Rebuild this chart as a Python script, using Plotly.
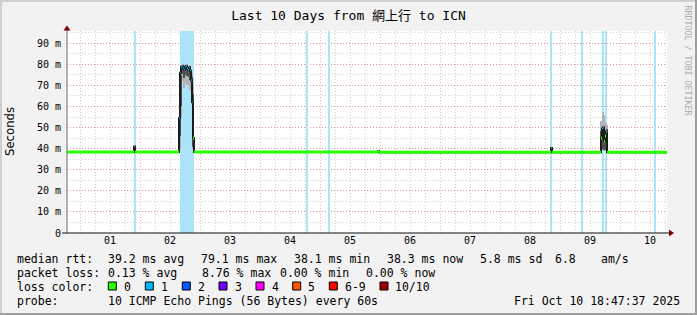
import plotly.graph_objects as go

# ---------------- data ----------------
# time axis: days counted from Oct 01 00:00 (graph ends Fri Oct 10 18:47:37)
graph_start = -0.2169
graph_end = 9.7831
sample_days = 1 / 60          # one rrd sample per pixel column

day_label_pos = [0.5, 1.5, 2.5, 3.5, 4.5, 5.5, 6.5, 7.5, 8.5, 9.5]
day_labels = ["01", "02", "03", "04", "05", "06", "07", "08", "09", "10"]

y_max = 95.8
y_tick_vals = [0, 10, 20, 30, 40, 50, 60, 70, 80, 90]
y_tick_text = ["0", "10 m", "20 m", "30 m", "40 m", "50 m", "60 m", "70 m", "80 m", "90 m"]

# median rtt (ms) samples, value held until next sample, with lost pings per sample
med_day = [-0.2169, 0.900, 0.917, 1.650, 1.667, 1.683, 1.700, 1.717, 1.733, 1.750,
           1.767, 1.783, 1.800, 1.817, 1.833, 1.850, 1.867, 1.883, 1.900, 4.967,
           4.983, 7.850, 7.867, 8.683, 8.700, 8.717, 8.733, 8.750, 8.767, 8.783]
med_ms = [38.4, 41.0, 38.4, 54.5, 76.0, 78.6, 79.0, 78.2, 77.4, 78.8,
          79.1, 78.0, 77.6, 78.4, 77.0, 72.5, 62.0, 45.0, 38.4, 38.9,
          38.3, 40.3, 38.3, 45.0, 49.5, 50.0, 43.5, 46.0, 47.5, 38.3]
med_loss = [0, 1, 0, 1, 1, 1, 1, 1, 1, 1,
            1, 1, 1, 1, 1, 1, 1, 0, 0, 0,
            0, 1, 0, 0, 1, 1, 0, 0, 1, 0]

# smoke (ping spread) for the busy samples: 10th/25th/75th/90th percentile (ms)
smoke_day = [1.650, 1.667, 1.683, 1.700, 1.717, 1.733, 1.750, 1.767, 1.783, 1.800,
             1.817, 1.833, 1.850, 1.867, 1.883,
             8.667, 8.683, 8.700, 8.717, 8.733, 8.750, 8.767]
smoke_p10 = [40.0, 55.0, 73.0, 72.0, 70.0, 69.0, 71.0, 71.0, 70.0, 70.0,
             70.5, 68.0, 62.0, 48.0, 40.0,
             38.5, 39.0, 39.5, 39.5, 39.0, 39.0, 39.0]
smoke_p25 = [46.0, 60.0, 76.0, 75.5, 74.0, 73.5, 75.0, 75.5, 74.5, 74.0,
             74.5, 72.5, 66.0, 53.0, 41.0,
             38.8, 40.0, 40.0, 40.0, 39.5, 39.5, 39.5]
smoke_p75 = [54.0, 75.0, 79.2, 79.5, 78.8, 78.0, 79.3, 79.6, 78.6, 78.5,
             79.0, 78.0, 74.0, 66.0, 50.0,
             40.0, 48.5, 50.5, 50.0, 48.0, 49.0, 49.5]
smoke_p90 = [55.0, 77.0, 79.8, 80.0, 79.6, 79.0, 80.0, 80.2, 79.5, 79.3,
             79.8, 79.0, 76.0, 70.0, 55.0,
             41.0, 53.0, 57.5, 56.0, 54.0, 52.0, 51.0]

# periods with packet loss (background), days
loss_start = [0.908, 1.667, 3.780, 4.147, 7.842, 8.363, 8.705, 8.758, 9.580]
loss_end = [0.925, 1.900, 3.797, 4.163, 7.858, 8.380, 8.738, 8.775, 9.597]

loss_names = ["0", "1", "2", "3", "4", "5", "6-9", "10/10"]

# ---------------- styles ----------------
loss_colors = ["#26ff00", "#00b8ff", "#0059ff", "#6e00ff", "#ff00ff", "#ff5500", "#ff0000", "#a10000"]
loss_bg_color = "#aae3fa"
MONO = "DejaVu Sans Mono, Noto Sans CJK TC, monospace"

L, R, T, B = 67, 30, 31, 82
W, H = 697, 315
PW, PH = W - L - R, H - T - B


def px(xp):
    return (xp - L) / PW


def py(yp):
    return (H - B - yp) / PH


def loss_cat(n):
    if n <= 5:
        return n
    if n < 10:
        return 6
    return 7


fig = go.Figure()

# loss background
fig.add_trace(go.Bar(
    x=[(s + e) / 2 for s, e in zip(loss_start, loss_end)],
    width=[e - s for s, e in zip(loss_start, loss_end)],
    y=[y_max] * len(loss_start), base=0,
    marker=dict(color=loss_bg_color, line=dict(width=0)),
    hoverinfo="skip", showlegend=False))

# smoke
fig.add_trace(go.Bar(
    x=[d + sample_days / 2 for d in smoke_day], width=[sample_days] * len(smoke_day),
    base=smoke_p10, y=[h - l for h, l in zip(smoke_p90, smoke_p10)],
    marker=dict(color="#b2b2b2", line=dict(width=0)), hoverinfo="skip", showlegend=False))
fig.add_trace(go.Bar(
    x=[d + sample_days / 2 for d in smoke_day], width=[sample_days] * len(smoke_day),
    base=smoke_p25, y=[h - l for h, l in zip(smoke_p75, smoke_p25)],
    marker=dict(color="#505050", line=dict(width=0)), hoverinfo="skip", showlegend=False))

# median, dark underlay (steps incl. vertical transitions)
fig.add_trace(go.Scatter(
    x=med_day + [graph_end], y=med_ms + [med_ms[-1]], mode="lines",
    line=dict(color="#1c1c1c", width=2, shape="hv"), hoverinfo="skip", showlegend=False))

# median coloured by loss (horizontal step pieces)
n = len(med_day)
cats = [loss_cat(v) for v in med_loss]
for c in sorted(set(cats)):
    xs, ys = [], []
    for i in range(n):
        if cats[i] != c:
            continue
        nxt = med_day[i + 1] if i + 1 < n else graph_end
        xs += [med_day[i], nxt, None]
        ys += [med_ms[i], med_ms[i], None]
    fig.add_trace(go.Scatter(x=xs, y=ys, mode="lines", connectgaps=False,
                             line=dict(color=loss_colors[c], width=3 if c == 0 else 1.2),
                             hoverinfo="skip", showlegend=False))

# carrier for the label axis
fig.add_trace(go.Scatter(x=[None], y=[None], xaxis="x2", showlegend=False, hoverinfo="skip"))

grid_major = "rgba(222,79,79,0.42)"
grid_minor = "rgba(143,143,143,0.42)"
DASH = "1px,2px"

fig.update_layout(
    width=W, height=H, margin=dict(l=L, r=R, t=T, b=B, pad=0),
    paper_bgcolor="#f2f2f2", plot_bgcolor="#ffffff",
    barmode="overlay", bargap=0, showlegend=False,
    font=dict(family=MONO, color="#000000"),
    title=dict(text="Last 10 Days from 網上行 to ICN", x=0.5, xanchor="center",
               y=1 - 15.5 / H, yanchor="middle", yref="container",
               font=dict(family=MONO, size=13, color="#000000")),
    xaxis=dict(range=[graph_start, graph_end], tickmode="linear", tick0=0, dtick=1,
               showticklabels=False, ticks="", showgrid=True, gridcolor=grid_major,
               griddash=DASH, gridwidth=1, zeroline=False, showline=False,
               minor=dict(tickmode="linear", tick0=0, dtick=0.25, showgrid=True,
                          gridcolor=grid_minor, griddash=DASH, gridwidth=1)),
    xaxis2=dict(overlaying="x", anchor="y", side="bottom", range=[graph_start, graph_end],
                tickmode="array", tickvals=day_label_pos, ticktext=day_labels,
                showgrid=False, zeroline=False, showline=False, ticks="",
                tickfont=dict(family=MONO, size=10, color="#000000")),
    yaxis=dict(range=[0, y_max], tickmode="array", tickvals=y_tick_vals, ticktext=y_tick_text,
               showgrid=True, gridcolor=grid_major, griddash=DASH, gridwidth=1,
               zeroline=False, showline=False, ticks="", ticklabelstandoff=5,
               tickfont=dict(family=MONO, size=10, color="#000000"),
               minor=dict(tickmode="linear", tick0=0, dtick=5, showgrid=True,
                          gridcolor=grid_minor, griddash=DASH, gridwidth=1)),
)

shapes = []
# frame shading
shapes.append(dict(type="rect", xref="paper", yref="paper", x0=px(0), x1=px(W), y0=py(0), y1=py(2),
                   fillcolor="#cfcfcf", line=dict(width=0), layer="below"))
shapes.append(dict(type="rect", xref="paper", yref="paper", x0=px(0), x1=px(2), y0=py(0), y1=py(H),
                   fillcolor="#cfcfcf", line=dict(width=0), layer="below"))
shapes.append(dict(type="rect", xref="paper", yref="paper", x0=px(W - 2), x1=px(W), y0=py(0), y1=py(H),
                   fillcolor="#9e9e9e", line=dict(width=0), layer="below"))
shapes.append(dict(type="rect", xref="paper", yref="paper", x0=px(0), x1=px(W), y0=py(H - 2), y1=py(H),
                   fillcolor="#9e9e9e", line=dict(width=0), layer="below"))
# axes
shapes.append(dict(type="line", xref="paper", yref="paper", x0=px(L), x1=px(L), y0=0, y1=py(29),
                   line=dict(color="#6a6a6a", width=1)))
shapes.append(dict(type="line", xref="paper", yref="paper", x0=px(62), x1=px(670), y0=0, y1=0,
                   line=dict(color="#101010", width=1.2)))
# arrows
shapes.append(dict(type="path", xref="paper", yref="paper",
                   path=f"M {px(674)} {py(233)} L {px(669)} {py(229.5)} L {px(669)} {py(236.5)} Z",
                   fillcolor="#7f0000", line=dict(width=0)))
shapes.append(dict(type="path", xref="paper", yref="paper",
                   path=f"M {px(67)} {py(25.5)} L {px(63.5)} {py(30.5)} L {px(70.5)} {py(30.5)} Z",
                   fillcolor="#7f0000", line=dict(width=0)))

annotations = []


def text_at(x, y, s, size=11.5, color="#000000", anchor="left", angle=0, family=MONO):
    annotations.append(dict(x=px(x), y=py(y), xref="paper", yref="paper", text=s, showarrow=False,
                            xanchor=anchor, yanchor="middle", textangle=angle,
                            font=dict(family=family, size=size, color=color), borderpad=0))


text_at(10, 132, "Seconds", size=11.7, anchor="center", angle=-90, family="DejaVu Sans")
text_at(687.5, 60, "RRDTOOL / TOBI OETIKER", size=8.3, color="#ababab", anchor="center", angle=90)

row1 = [(16, "median rtt:"), (107, "39.2 ms avg"), (200, "79.1 ms max"), (292.5, "38.1 ms min"),
        (386, "38.3 ms now"), (479, "5.8 ms sd"), (554, "6.8"), (600, "am/s")]
row2 = [(16, "packet loss:"), (107, "0.13 % avg"), (200.5, "8.76 % max"), (279, "0.00 % min"),
        (365, "0.00 % now")]
for x, s in row1:
    text_at(x, 259, s)
for x, s in row2:
    text_at(x, 273, s)
text_at(16, 287, "loss color:")
box_x = [108.3, 145.3, 182.3, 219.0, 256.0, 292.7, 329.3, 380.0]
for bx, name, col in zip(box_x, loss_names, loss_colors):
    shapes.append(dict(type="rect", xref="paper", yref="paper", x0=px(bx), x1=px(bx + 8),
                       y0=py(290), y1=py(282), fillcolor=col, line=dict(color="#000000", width=1)))
    text_at(bx + 14.5, 287, name)
text_at(16, 301, "probe:")
text_at(107, 301, "10 ICMP Echo Pings (56 Bytes) every 60s")
text_at(513, 301, "Fri Oct 10 18:47:37 2025")

fig.update_layout(shapes=shapes, annotations=annotations)
fig.write_html("out.html")
